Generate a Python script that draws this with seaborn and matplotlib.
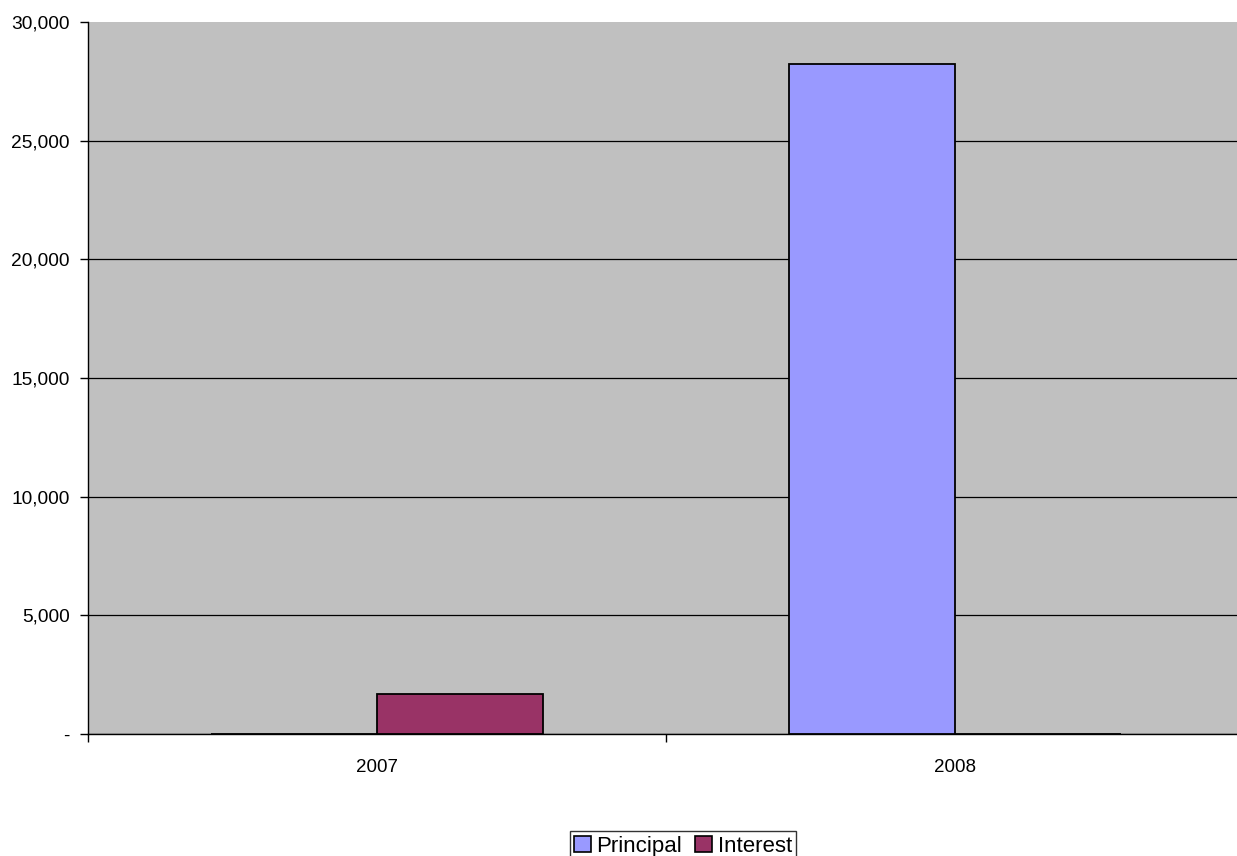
import numpy as np
import pandas as pd
import matplotlib
matplotlib.use("Agg")
import matplotlib.pyplot as plt
import seaborn as sns
from matplotlib.ticker import FuncFormatter

# data
years = ["2007", "2008"]
principal = [0, 28250]
interest = [1700, 0]
series = ["Principal", "Interest"]
colors = ["#9999FF", "#993366"]

df = pd.DataFrame({
    "year": years * 2,
    "value": principal + interest,
    "series": ["Principal"] * len(years) + ["Interest"] * len(years),
})

sns.set_style("white")
plt.rcParams["font.family"] = ["Liberation Sans", "DejaVu Sans"]
plt.rcParams["text.color"] = "black"
plt.rcParams["xtick.color"] = "black"
plt.rcParams["ytick.color"] = "black"

fig = plt.figure(figsize=(12.37, 8.56), dpi=100)
ax = fig.add_axes([88 / 1237, 1 - 734 / 856, 1156 / 1237, 712 / 856])
ax.set_facecolor("#C0C0C0")

sns.barplot(data=df, x="year", y="value", hue="series", hue_order=series,
            palette=colors, width=0.574, edgecolor="black", linewidth=1.3,
            saturation=1, ax=ax, zorder=3)

ax.set_ylim(0, 30000)
ax.set_xlim(-0.5, 1.5)
ax.set_yticks(np.arange(0, 30001, 5000))
ax.yaxis.set_major_formatter(FuncFormatter(lambda v, p: "-" if v == 0 else "{:,.0f}".format(v)))
ax.grid(axis="y", color="black", linewidth=0.9, zorder=1)
ax.set_axisbelow(True)

# category labels centred, ticks at category borders
ax.set_xticks([0, 1])
ax.set_xticklabels(years)
ax.set_xticks([-0.5, 0.5, 1.5], minor=True)
ax.tick_params(axis="x", which="major", length=0, pad=18, labelsize=13.5, labelcolor="black")
ax.tick_params(axis="x", which="minor", length=6, width=1, color="black", direction="out")
ax.tick_params(axis="y", length=6, width=1, color="black", direction="out", labelsize=13.8,
               pad=7, labelcolor="black")
ax.tick_params(left=True, bottom=True, which="both")

ax.set_xlabel("")
ax.set_ylabel("")
for s in ["top", "right"]:
    ax.spines[s].set_visible(False)
for s in ["left", "bottom"]:
    ax.spines[s].set_color("black")
    ax.spines[s].set_linewidth(1)

# no gridline along the top edge of the plot area
fig.canvas.draw()
ax.yaxis.get_gridlines()[-1].set_visible(False)

ax.get_legend().remove()
handles = [plt.Rectangle((0, 0), 1, 1, facecolor=c, edgecolor="black", linewidth=1.2) for c in colors]
leg = fig.legend(handles, series, loc="lower center", bbox_to_anchor=(683 / 1237, -0.006),
                 ncol=2, fontsize=16, frameon=True, fancybox=False, edgecolor="black",
                 handlelength=0.75, handleheight=0.75, handletextpad=0.25, columnspacing=0.6,
                 borderpad=0.2, borderaxespad=0)
leg.get_frame().set_linewidth(1)

fig.savefig("out.png", dpi=100, facecolor="white")
